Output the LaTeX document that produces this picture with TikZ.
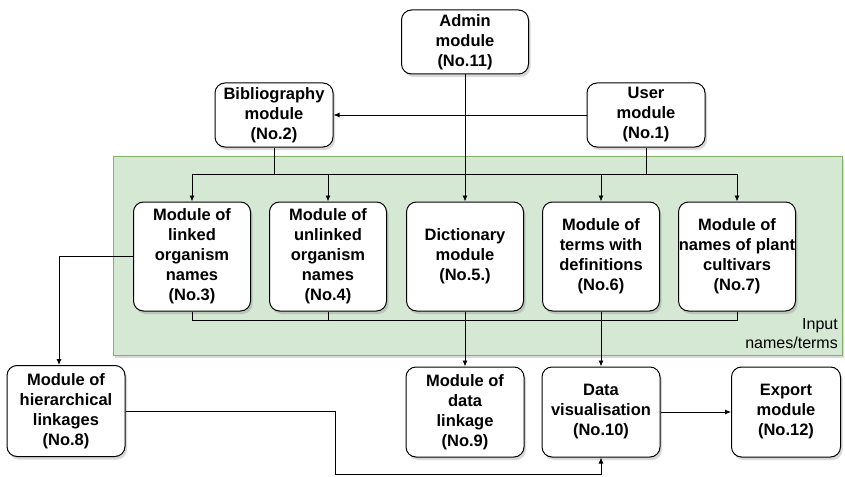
\documentclass[tikz,border=0pt]{standalone}
\usepackage{fontspec}
\setmainfont{Liberation Sans}
\usepackage{xcolor}
\usetikzlibrary{shadows,arrows.meta}

\definecolor{groupfill}{HTML}{D5E8D4}
\definecolor{groupline}{HTML}{82B366}

\tikzset{
    modbox/.style={draw, rounded corners=10pt, fill=white, align=center, line width=1pt,
        font=\fontsize{16.5}{20}\selectfont\bfseries, inner sep=0pt,
        drop shadow={shadow xshift=2pt, shadow yshift=-3pt, opacity=0.25, fill=black!60}},
    link/.style={line width=0.9pt},
    arrowlink/.style={link, -{Latex[length=6pt,width=5pt]}}
}

\begin{document}
\begin{tikzpicture}[x=1pt, y=-1pt]
        \useasboundingbox (0,0) rectangle (845,476);
        
        % input names/terms group
        \node[draw=groupline, fill=groupfill, line width=0.8pt, minimum width=729pt, minimum height=199pt,
            drop shadow={shadow xshift=2pt, shadow yshift=-3pt, opacity=0.25, fill=black!60}] (group) at (477.5,255.5) {};
        \node[anchor=south east, align=right, font=\fontsize{16}{19}\selectfont, inner sep=0pt] (grouplabel) at (838,349) {Input\\names/terms};
        
        \node[modbox, minimum width=127pt, minimum height=64pt] (admin) at (465,42) {Admin\\module\\(No.11)};
        \node[modbox, minimum width=118pt, minimum height=64pt] (biblio) at (274,115) {Bibliography\\module\\(No.2)};
        \node[modbox, minimum width=118pt, minimum height=64pt] (user) at (646,115) {User\\module\\(No.1)};
        
        \node[modbox, minimum width=117pt, minimum height=109pt] (linked) at (192,256.5) {Module of\\linked\\organism\\names\\(No.3)};
        \node[modbox, minimum width=117pt, minimum height=109pt] (unlinked) at (328,256.5) {Module of\\unlinked\\organism\\names\\(No.4)};
        \node[modbox, minimum width=117pt, minimum height=109pt] (dict) at (465,256.5) {Dictionary\\module\\(No.5.)};
        \node[modbox, minimum width=117pt, minimum height=109pt] (terms) at (601,256.5) {Module of\\terms with\\definitions\\(No.6)};
        \node[modbox, minimum width=117pt, minimum height=109pt] (cultivars) at (737,256.5) {Module of\\names of plant\\cultivars\\(No.7)};
        
        \node[modbox, minimum width=118pt, minimum height=91pt] (hier) at (66,411) {Module of\\hierarchical\\linkages\\(No.8)};
        \node[modbox, minimum width=118pt, minimum height=90pt] (linkage) at (465,412) {Module of\\data\\linkage\\(No.9)};
        \node[modbox, minimum width=118pt, minimum height=90pt] (visual) at (601,412) {Data\\visualisation\\(No.10)};
        \node[modbox, minimum width=109pt, minimum height=90pt] (export) at (786,412) {Export\\module\\(No.12)};
        
        \coordinate (topL) at (192,174);
        \coordinate (topR) at (737,174);
        \coordinate (botL) at (192,320);
        \coordinate (botR) at (737,320);
        \coordinate (bend) at (335,474);
        
        \draw[arrowlink] (user) -- (biblio);
        \draw[link] (biblio) -- (biblio |- topL);
        \draw[link] (user) -- (user |- topL);
        \draw[link] (topL) -- (topR);
        \draw[arrowlink] (topL) -- (linked);
        \draw[arrowlink] (unlinked |- topL) -- (unlinked);
        \draw[arrowlink] (terms |- topL) -- (terms);
        \draw[arrowlink] (topR) -- (cultivars);
        \draw[arrowlink] (admin) -- (dict);
        
        \draw[link] (linked) -- (botL) -- (botR) -- (cultivars);
        \draw[link] (unlinked) -- (unlinked |- botL);
        \draw[arrowlink] (dict) -- (linkage);
        \draw[arrowlink] (terms) -- (visual);
        
        \draw[arrowlink] (linked) -| ([xshift=-7pt]hier.north);
        \draw[arrowlink] (hier) -| (bend) -| (visual);
        \draw[arrowlink] (visual) -- (export);
    \end{tikzpicture}
\end{document}
